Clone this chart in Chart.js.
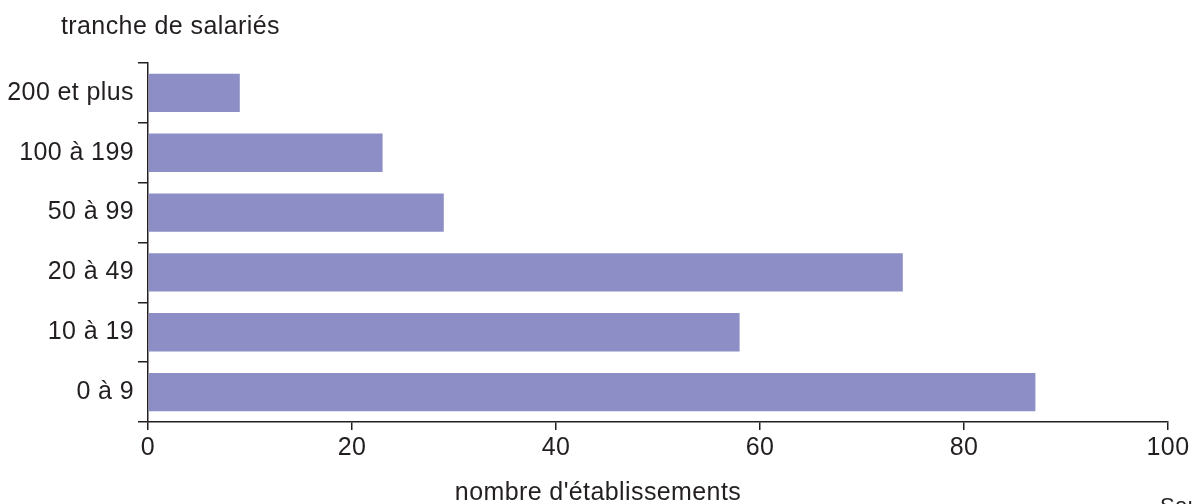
<!DOCTYPE html>
<html>
<head>
<meta charset="utf-8">
<script src="https://cdn.jsdelivr.net/npm/chart.js@4/dist/chart.umd.min.js"></script>
<style>
  html, body { margin: 0; padding: 0; background: #fff; }
  #wrap { width: 1193px; height: 504px; position: relative; }
</style>
</head>
<body>
<div id="wrap"><canvas id="chart"></canvas></div>
<script>
// tranches de salariés, du bas vers le haut comme sur le graphique
var categories = ['0 à 9', '10 à 19', '20 à 49', '50 à 99', '100 à 199', '200 et plus'];
var etablissements = [87, 58, 74, 29, 23, 9];
var xTicks = [0, 20, 40, 60, 80, 100];

var ink = '#231f20';
var fontFam = '"Liberation Sans", Arial, Helvetica, sans-serif';
var track = '0.4px';

// texte un peu plus large que l'Arial de base
var spacing = {
  id: 'spacing',
  beforeInit: function (chart) { chart.ctx.letterSpacing = track; },
  beforeDraw: function (chart) { chart.ctx.letterSpacing = track; }
};

var titles = {
  id: 'titles',
  afterDraw: function (chart) {
    var c = chart.ctx;
    c.save();
    c.letterSpacing = track;
    c.fillStyle = ink;
    c.font = '25px ' + fontFam;
    c.textBaseline = 'middle';
    c.textAlign = 'left';
    c.fillText('tranche de salariés', 61, 27);
    c.textAlign = 'center';
    c.fillText("nombre d'établissements", 598, 493);
    c.textAlign = 'left';
    c.font = '22px ' + fontFam;
    c.textBaseline = 'top';
    c.fillText('Source : Insee', 1160, 496);
    c.restore();
  }
};

var ctx = document.getElementById('chart').getContext('2d');
var chart = new Chart(ctx, {
  type: 'bar',
  data: {
    labels: categories,
    datasets: [{
      data: etablissements,
      backgroundColor: '#8d8ec6',
      borderWidth: 0,
      barPercentage: 0.64,
      categoryPercentage: 1
    }]
  },
  options: {
    indexAxis: 'y',
    responsive: true,
    maintainAspectRatio: false,
    animation: false,
    layout: { padding: { top: 63, right: 25, left: 0, bottom: 0 } },
    plugins: { legend: { display: false }, tooltip: { enabled: false } },
    scales: {
      x: {
        min: 0, max: 100,
        afterBuildTicks: function (s) { s.ticks = xTicks.map(function (v) { return { value: v }; }); },
        afterFit: function (s) { s.height = 82; },
        grid: { drawOnChartArea: false, color: ink, lineWidth: 1.5, tickLength: 8 },
        border: { color: ink, width: 1.5 },
        ticks: { color: ink, font: { family: fontFam, size: 25 }, padding: 3, maxRotation: 0 }
      },
      y: {
        reverse: true,
        afterFit: function (s) { s.width = 148; },
        grid: { offset: true, drawOnChartArea: false, color: ink, lineWidth: 1.5, tickLength: 10 },
        border: { color: ink, width: 1.5 },
        ticks: { color: ink, font: { family: fontFam, size: 25 }, padding: 4 }
      }
    }
  },
  plugins: [spacing, titles]
});
</script>
</body>
</html>
